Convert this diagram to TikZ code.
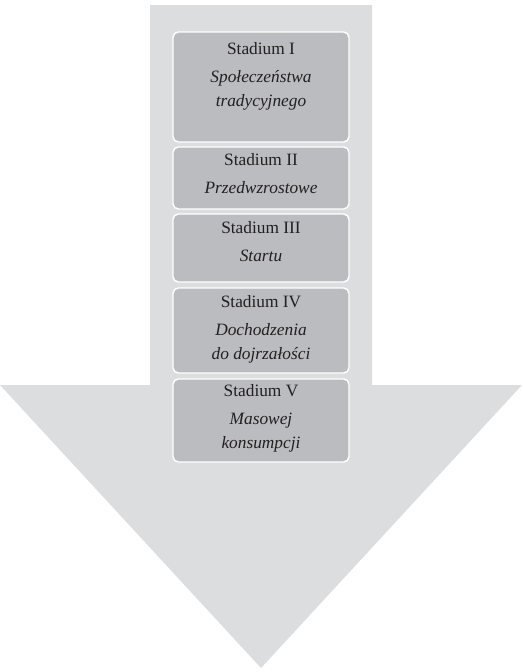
\documentclass[tikz,border=0pt]{standalone}
\usepackage{fontspec}
\setmainfont{Liberation Serif}
\definecolor{arrowgray}{HTML}{DCDDDF}
\definecolor{boxgray}{HTML}{BBBCBF}
\definecolor{inkgray}{HTML}{231F20}
\begin{document}
\begin{tikzpicture}[x=0.75pt,y=-0.75pt,
  stagebox/.style={draw=white, line width=1.1pt, fill=boxgray, rounded corners=4pt,
    minimum width=132pt, inner sep=0pt},
  stagetext/.style={align=center, text=inkgray, inner sep=0pt,
    font=\fontsize{13}{18}\selectfont},
]
\useasboundingbox (0,0) rectangle (522,672);
\clip (0,0) rectangle (522,672);
% big downward arrow
\fill[arrowgray] (150,5) -- (372,5) -- (372,385) -- (522,385) -- (261,668)
  -- (0,385) -- (150,385) -- cycle;
% the five stages
\node[stagebox, minimum height=82.5pt] (s1) at (261,87) {};
\node[stagebox, minimum height=46.5pt] (s2) at (261,178) {};
\node[stagebox, minimum height=51pt]   (s3) at (261,248) {};
\node[stagebox, minimum height=63.75pt] (s4) at (261,330.5) {};
\node[stagebox, minimum height=62.25pt] (s5) at (261,420.5) {};
\node[stagetext] (t1) at (261,76)
  {Stadium I\\[3pt]\textit{Społeczeństwa}\\\textit{tradycyjnego}};
\node[stagetext] (t2) at (261,174)
  {Stadium II\\[3pt]\textit{Przedwzrostowe}};
\node[stagetext] (t3) at (261,242)
  {Stadium III\\[3pt]\textit{Startu}};
\node[stagetext] (t4) at (261,329)
  {Stadium IV\\[3pt]\textit{Dochodzenia}\\\textit{do dojrzałości}};
\node[stagetext] (t5) at (261,418)
  {Stadium V\\[3pt]\textit{Masowej}\\\textit{konsumpcji}};
\end{tikzpicture}
\end{document}
